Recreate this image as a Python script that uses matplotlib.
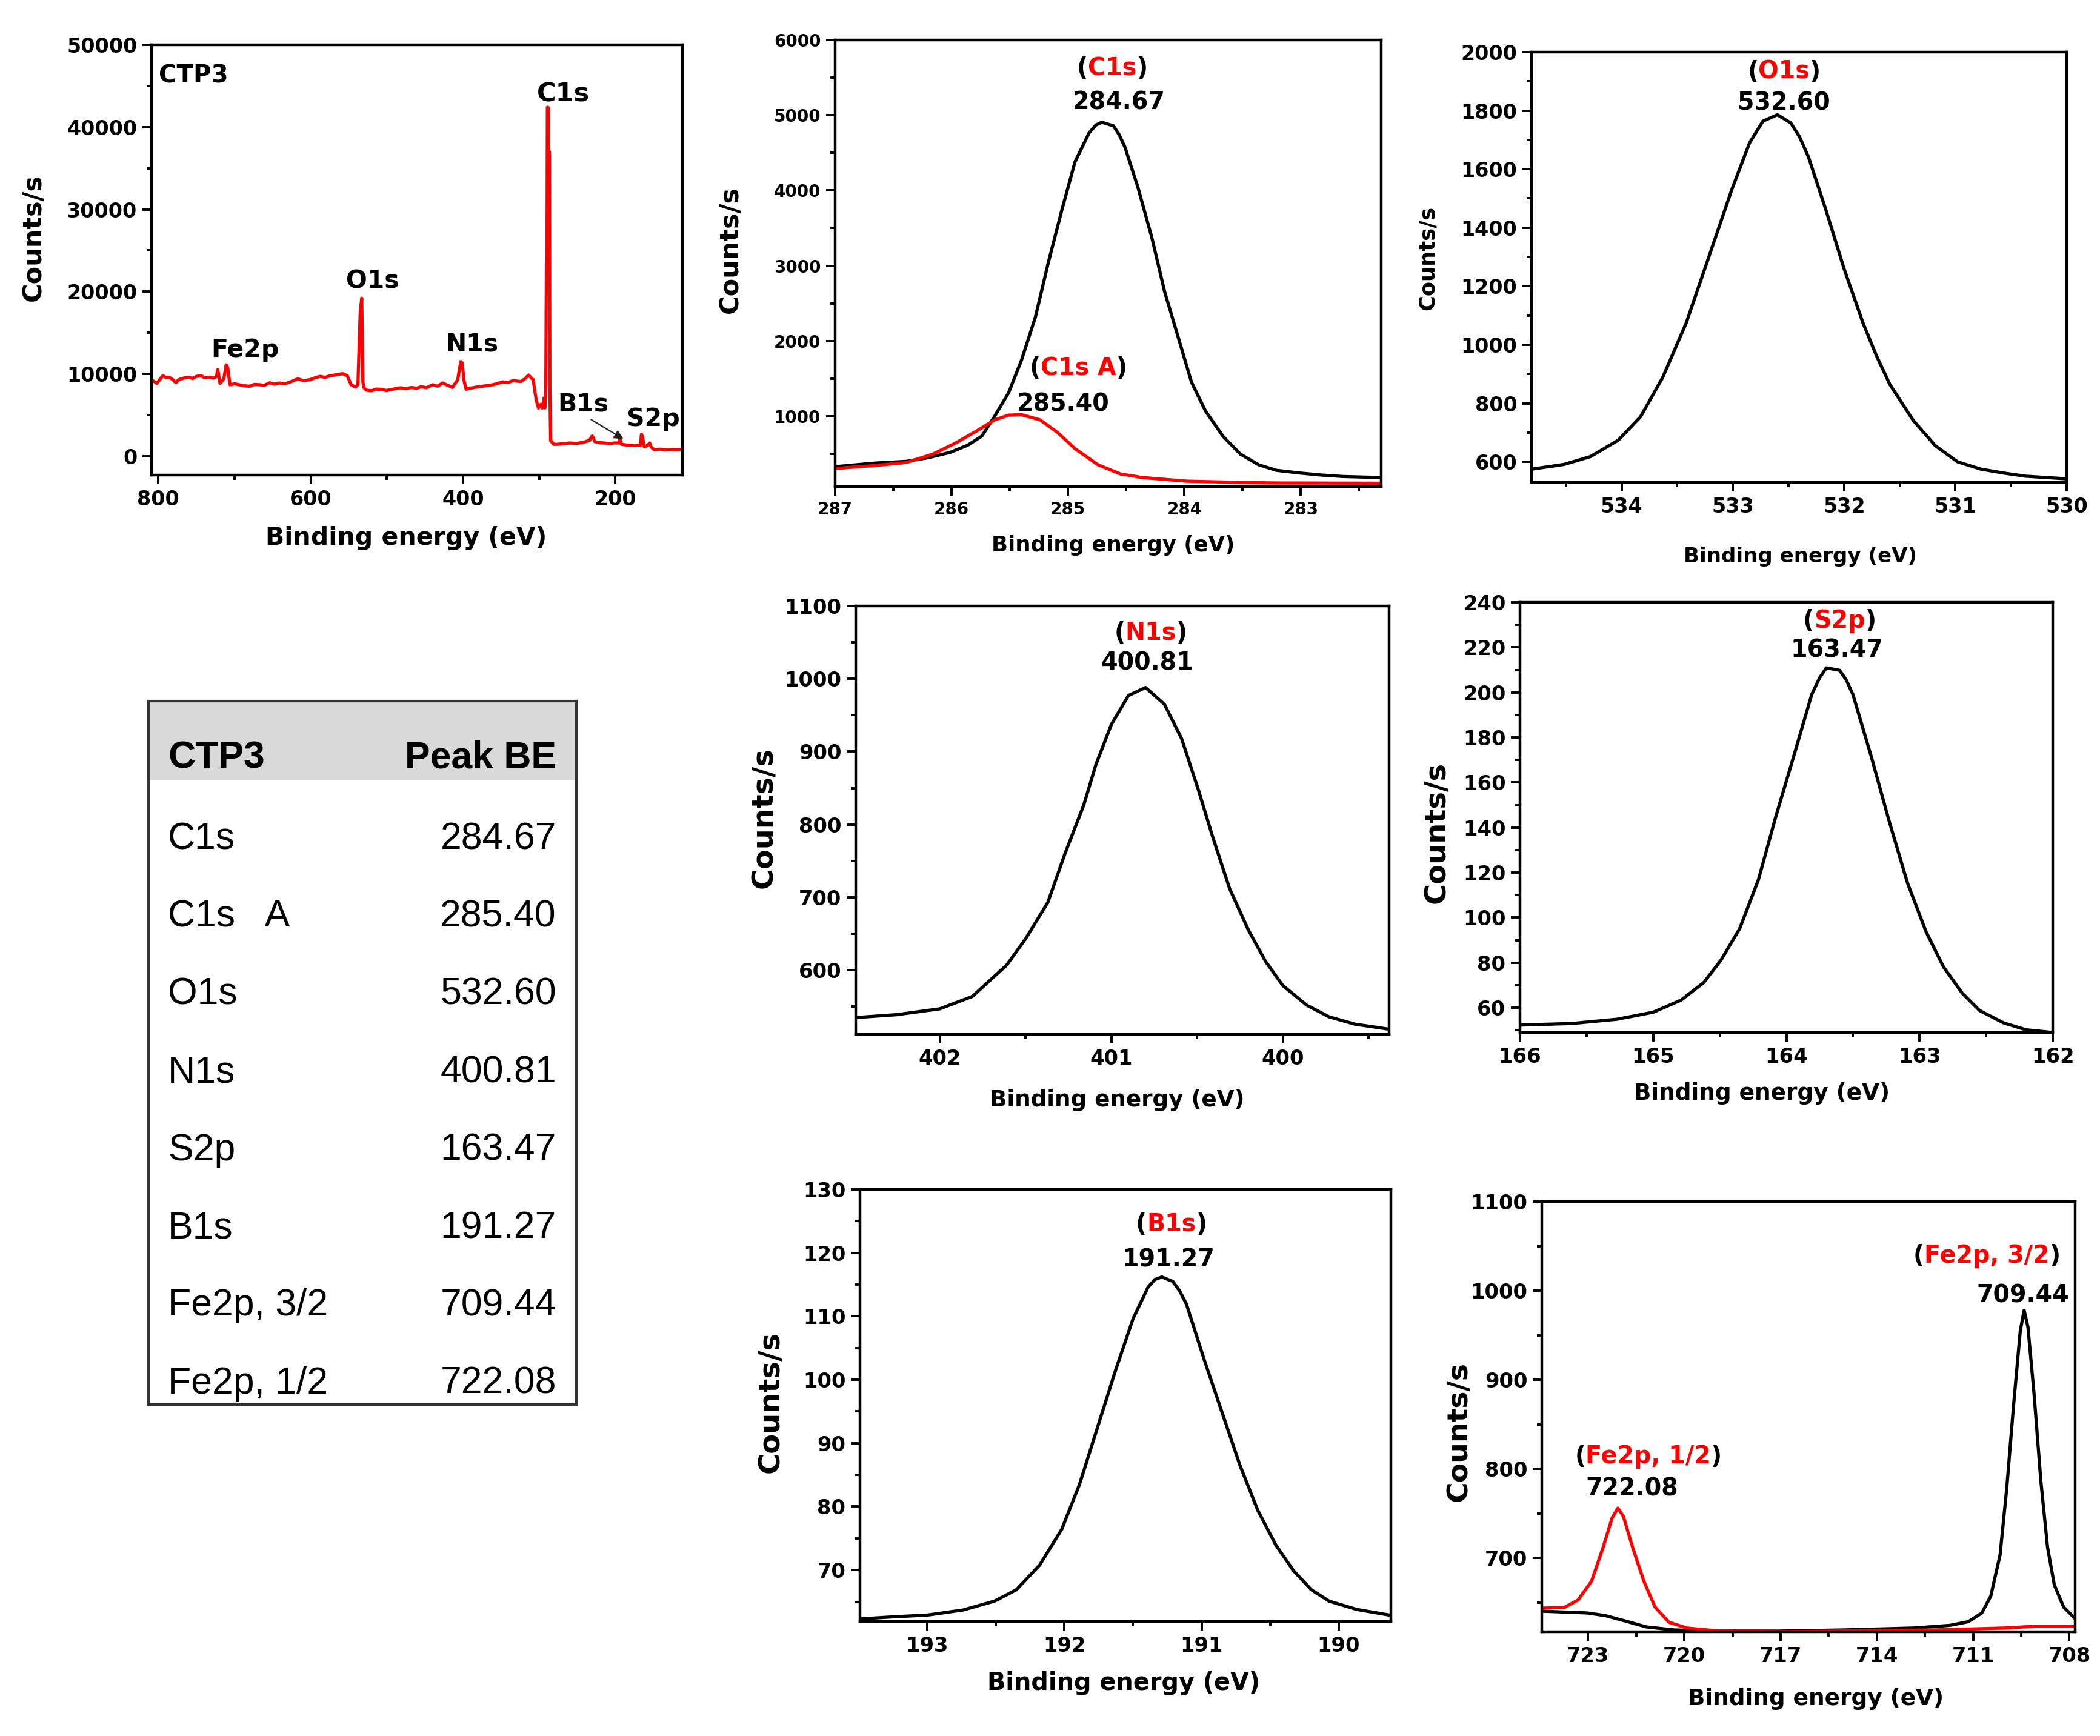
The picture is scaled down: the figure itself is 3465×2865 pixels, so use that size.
import matplotlib
matplotlib.use("Agg")
import matplotlib.pyplot as plt
from matplotlib.ticker import MultipleLocator, FormatStrFormatter
from matplotlib.patches import Rectangle

plt.rcParams['font.family'] = ['DejaVu Sans']
plt.rcParams['font.weight'] = 'bold'
plt.rcParams['axes.labelweight'] = 'bold'
plt.rcParams['lines.solid_joinstyle'] = 'round'

# ---------------- data ----------------
survey_ev = [809, 802, 797, 794, 790, 786, 781, 777, 774, 770, 765, 760, 755, 750, 744, 739,
             733, 728, 724, 722, 719, 714, 711, 709, 706, 700, 694, 688, 680, 674, 667, 661,
             654, 648, 641, 634, 627, 622, 617, 610, 601, 595, 588, 581, 574, 566, 558, 552,
             547, 541, 538, 535, 533, 531.5, 530, 527, 520, 514, 508, 501, 495, 488, 482, 475,
             468, 461, 455, 448, 440, 433, 427, 420, 414, 407, 403, 401, 399, 396, 392, 387,
             381, 374, 367, 361, 354, 348, 341, 334, 329, 324, 319, 314, 308, 304, 301, 298,
             296, 293.5, 292.5, 291.3, 290.6, 289.8, 289.3, 288.3, 287.6, 286.6, 286.0, 285.0,
             281, 276, 268, 260, 251, 242, 234, 230.5, 229.5, 227, 221, 215, 208, 202, 195,
             194, 192, 185, 175, 170, 167, 165.8, 164.5, 162, 158, 155, 153, 149, 142, 135,
             128, 122, 117, 113]
survey_counts = [9290, 8850, 9450, 9780, 9550, 9600, 9300, 8920, 9250, 9410, 9520, 9600, 9450, 9700, 9780, 9520,
                 9600, 9480, 9650, 10500, 8850, 9410, 11100, 10760, 8680, 8800, 8680, 8560, 8500, 8720, 8680, 8600,
                 8920, 8750, 8900, 8780, 9030, 9200, 9410, 9180, 9290, 9500, 9700, 9580, 9780, 9900, 10030, 9780,
                 8680, 8400, 8700, 17500, 19200, 9000, 8310, 8020, 7950, 8150, 8130, 7980, 8080, 8220, 8310, 8180,
                 8350, 8250, 8440, 8320, 8680, 8500, 8900, 8600, 8350, 9290, 11500, 11300, 9290, 8130, 8250, 8310,
                 8420, 8500, 8600, 8680, 8850, 9030, 8950, 9200, 9120, 9070, 9400, 9860, 9290, 6840, 5850, 6300,
                 5850, 7080, 5850, 9000, 23500, 23500, 42400, 42400, 37000, 37000, 8300, 1900,
                 1440, 1440, 1520, 1600, 1550, 1680, 1920, 2460, 2300, 1760, 1650, 1600, 1520, 1600, 1600,
                 2120, 1440, 1350, 1270, 1330, 1300, 2660, 2400, 1110, 1300, 1600, 1100, 780, 850, 780,
                 820, 780, 800, 830]

c1s_ev = [287.00, 286.66, 286.39, 286.20, 286.01, 285.86, 285.74, 285.63, 285.51, 285.40, 285.28,
          285.17, 285.05, 284.94, 284.82, 284.76, 284.71, 284.61, 284.56, 284.51, 284.40, 284.28,
          284.17, 284.05, 283.94, 283.82, 283.67, 283.52, 283.36, 283.21, 283.02, 282.83, 282.64,
          282.31]
c1s_counts = [329, 377, 400, 449, 520, 616, 736, 1000, 1312, 1743, 2318,
              3037, 3757, 4380, 4763, 4870, 4907, 4859, 4740, 4572, 4044, 3373,
              2654, 2031, 1455, 1072, 736, 497, 353, 281, 247, 219, 199,
              185]
c1sA_ev = [287.00, 286.66, 286.39, 286.16, 285.97, 285.78, 285.63, 285.51, 285.40, 285.24,
           285.09, 284.94, 284.74, 284.55, 284.36, 283.98, 283.59, 283.21, 282.31]
c1sA_counts = [305, 345, 385, 497, 640, 808, 952, 1014, 1020, 952,
               784, 569, 353, 233, 185, 137, 123, 113, 110]

o1s_ev = [534.81, 534.52, 534.28, 534.03, 533.83, 533.63, 533.42, 533.22, 533.01, 532.85, 532.73,
          532.60, 532.48, 532.40, 532.32, 532.16, 532.00, 531.83, 531.71, 531.59, 531.38, 531.18,
          530.98, 530.77, 530.57, 530.37, 530.00]
o1s_counts = [575, 591, 618, 674, 754, 889, 1074, 1296, 1530, 1690, 1764,
              1786, 1758, 1710, 1641, 1456, 1259, 1074, 963, 865, 742, 655,
              600, 575, 562, 551, 542]

n1s_ev = [402.49, 402.25, 402.00, 401.81, 401.61, 401.50, 401.37, 401.27, 401.16, 401.09, 401.00,
          400.90, 400.80, 400.69, 400.59, 400.49, 400.41, 400.31, 400.20, 400.10, 400.00, 399.86,
          399.73, 399.58, 399.38]
n1s_counts = [535, 539, 547, 564, 607, 643, 693, 760, 827, 882, 937,
              977, 988, 965, 918, 846, 784, 712, 655, 612, 579, 552,
              536, 526, 519]

s2p_ev = [166.00, 165.61, 165.27, 165.00, 164.79, 164.62, 164.49, 164.35, 164.21, 164.08, 163.94,
          163.81, 163.75, 163.70, 163.60, 163.55, 163.50, 163.36, 163.23, 163.09, 162.95, 162.82,
          162.68, 162.55, 162.37, 162.20, 162.00]
s2p_counts = [52.3, 53.0, 54.9, 58.0, 63.4, 71.2, 81.2, 95.2, 116.8, 144.7, 172.6,
              199.0, 206.5, 210.9, 209.8, 205.5, 199.0, 171.0, 143.2, 115.3, 93.6, 78.1,
              66.5, 58.8, 53.3, 50.2, 49.0]

b1s_ev = [193.49, 193.23, 193.00, 192.74, 192.51, 192.35, 192.18, 192.02, 191.89, 191.76, 191.63,
          191.50, 191.39, 191.34, 191.29, 191.21, 191.16, 191.11, 190.98, 190.85, 190.72, 190.59,
          190.46, 190.33, 190.20, 190.07, 189.87, 189.63]
b1s_counts = [62.3, 62.65, 62.9, 63.7, 65.1, 66.9, 70.8, 76.4, 83.5, 92.4, 101.3,
              109.6, 114.6, 115.8, 116.2, 115.5, 114.0, 111.9, 103.1, 94.8, 86.5, 79.4,
              74.0, 69.9, 66.9, 65.1, 63.8, 62.9]

fe32_ev = [724.44, 723.03, 722.46, 721.76, 721.19, 720.34, 719.21, 717.09, 714.97, 712.85, 711.72,
           711.15, 710.73, 710.45, 710.16, 709.95, 709.74, 709.53, 709.41, 709.29, 709.10, 708.89,
           708.68, 708.47, 708.18, 707.82]
fe32_counts = [640.4, 638.4, 635.4, 628.6, 622.8, 619.4, 618.2, 618.0, 619.4, 621.5, 624.5,
               628.6, 638.3, 657.2, 703.4, 779, 871, 955, 978, 959, 884, 787,
               712, 670, 645, 632]
fe12_ev = [724.44, 723.74, 723.31, 722.89, 722.53, 722.25, 722.07, 721.90, 721.61, 721.26, 720.91,
           720.48, 719.92, 718.93, 717.09, 714.97, 712.14, 710.02, 709.03, 707.82]
fe12_counts = [643.8, 644.6, 653, 674, 712, 745, 756, 747, 712, 674, 645,
               628, 621.5, 618.2, 617.3, 618.2, 619.4, 621.5, 623.6, 623.6]

table_header = ["CTP3", "Peak BE"]
table_names = ["C1s", "C1s   A", "O1s", "N1s", "S2p", "B1s", "Fe2p, 3/2", "Fe2p, 1/2"]
table_values = ["284.67", "285.40", "532.60", "400.81", "163.47", "191.27", "709.44", "722.08"]

# ---------------- figure ----------------
W, H = 3466, 2865
fig = plt.figure(figsize=(W / 100, H / 100), dpi=100)
fig.patch.set_facecolor('white')


def px_axes(l, r, t, b):
    return fig.add_axes([l / W, 1 - b / H, (r - l) / W, (b - t) / H])


def style(ax, xlim, ylim, xmaj, xmin, ymaj, ymin, tick_fs):
    ax.set_xlim(*xlim)
    ax.set_ylim(*ylim)
    ax.xaxis.set_major_locator(MultipleLocator(xmaj))
    ax.xaxis.set_minor_locator(MultipleLocator(xmin))
    ax.yaxis.set_major_locator(MultipleLocator(ymaj))
    ax.yaxis.set_minor_locator(MultipleLocator(ymin))
    ax.xaxis.set_major_formatter(FormatStrFormatter('%d'))
    ax.yaxis.set_major_formatter(FormatStrFormatter('%d'))
    ax.tick_params(which='both', direction='out', top=False, right=False, width=2.8, color='black')
    ax.tick_params(which='major', length=11, labelsize=tick_fs, pad=6)
    ax.tick_params(which='minor', length=6)
    for s in ax.spines.values():
        s.set_linewidth(3.2)
    for lab in ax.get_xticklabels() + ax.get_yticklabels():
        lab.set_fontweight('bold')


def labels(ax, xfs, yfs, xc, yc):
    ax.set_xlabel("Binding energy (eV)", fontsize=xfs, va='center', ha='center')
    ax.set_ylabel("Counts/s", fontsize=yfs, va='center', ha='center')
    ax.xaxis.set_label_coords(*xc)
    ax.yaxis.set_label_coords(*yc)


def paren_text(ax, x, y, mid, fs):
    t = ax.text(x, y, mid, color='#ff0000', ha='center', va='center', fontsize=fs, fontweight='bold')
    ax.annotate('(', xy=(0, 0), xycoords=t, ha='right', va='bottom', fontsize=fs,
                fontweight='bold', color='black')
    ax.annotate(')', xy=(1, 0), xycoords=t, ha='left', va='bottom', fontsize=fs,
                fontweight='bold', color='black')


RED = '#ff0000'
ANN = 28.5
LW = 3.8

# Survey
ax = px_axes(250, 1126, 74, 784)
ax.plot(survey_ev, survey_counts, color=RED, lw=3.8)
style(ax, (809, 112), (-2300, 50000), 200, 100, 10000, 5000, 24)
labels(ax, 29.5, 31, (0.48, -0.146), (-0.223, 0.552))
ax.text(799.5, 46243, "CTP3", fontsize=29, ha='left', va='center')
ax.text(268.7, 43960, "C1s", fontsize=31, ha='center', va='center')
ax.text(518.6, 21199, "O1s", fontsize=29.5, ha='center', va='center')
ax.text(388, 13538, "N1s", fontsize=29.5, ha='center', va='center')
ax.text(686.5, 12876, "Fe2p", fontsize=29.5, ha='center', va='center')
ax.text(242.5, 6283, "B1s", fontsize=29.5, ha='center', va='center')
ax.text(150.6, 4441, "S2p", fontsize=29.5, ha='center', va='center')
ax.annotate('', xy=(187.6, 1975), xytext=(233.7, 4552),
            arrowprops=dict(arrowstyle='-|>', color='#222222', lw=1.6, mutation_scale=22))

# C1s
ax = px_axes(1378, 2279, 66, 803)
ax.plot(c1s_ev, c1s_counts, color='black', lw=LW)
ax.plot(c1sA_ev, c1sA_counts, color=RED, lw=LW)
style(ax, (287, 282.31), (65, 6000), 1, 0.5, 1000, 500, 20)
labels(ax, 25.6, 31, (0.509, -0.132), (-0.192, 0.53))
paren_text(ax, 284.62, 5621, "C1s", ANN)
ax.text(284.56, 5163, "284.67", fontsize=ANN, ha='center', va='center')
paren_text(ax, 284.91, 1635, "C1s A", ANN)
ax.text(285.04, 1160, "285.40", fontsize=ANN, ha='center', va='center')

# O1s
ax = px_axes(2527, 3410, 86, 796)
ax.plot(o1s_ev, o1s_counts, color='black', lw=LW)
style(ax, (534.81, 530), (530, 2000), 1, 0.5, 200, 100, 24)
labels(ax, 24.6, 25.4, (0.502, -0.172), (-0.194, 0.521))
paren_text(ax, 532.54, 1932, "O1s", ANN)
ax.text(532.54, 1826, "532.60", fontsize=ANN, ha='center', va='center')

# N1s
ax = px_axes(1412, 2292, 1000, 1707)
ax.plot(n1s_ev, n1s_counts, color='black', lw=LW)
style(ax, (402.49, 399.38), (512, 1100), 1, 0.5, 100, 50, 24.3)
labels(ax, 26.8, 34.4, (0.49, -0.153), (-0.172, 0.506))
paren_text(ax, 400.77, 1062.6, "N1s", ANN)
ax.text(400.79, 1021.8, "400.81", fontsize=ANN, ha='center', va='center')

# S2p
ax = px_axes(2508, 3387, 994, 1704)
ax.plot(s2p_ev, s2p_counts, color='black', lw=LW)
style(ax, (166, 162), (49, 240), 1, 0.5, 20, 10, 24.3)
labels(ax, 26.9, 34.6, (0.454, -0.141), (-0.156, 0.465))
paren_text(ax, 163.6, 231.7, "S2p", ANN)
ax.text(163.62, 218.5, "163.47", fontsize=ANN, ha='center', va='center')

# B1s
ax = px_axes(1419, 2295, 1963, 2676)
ax.plot(b1s_ev, b1s_counts, color='black', lw=LW)
style(ax, (193.49, 189.62), (61.9, 130), 1, 0.5, 10, 5, 24.3)
labels(ax, 28.7, 34.6, (0.497, -0.143), (-0.168, 0.508))
paren_text(ax, 191.22, 124.5, "B1s", ANN)
ax.text(191.24, 118.9, "191.27", fontsize=ANN, ha='center', va='center')

# Fe2p
ax = px_axes(2544, 3424, 1983, 2693)
ax.plot(fe32_ev, fe32_counts, color='black', lw=LW)
ax.plot(fe12_ev, fe12_counts, color=RED, lw=LW)
style(ax, (724.44, 707.82), (617.3, 1100), 3, 1.5, 100, 50, 24.3)
labels(ax, 26.9, 34, (0.514, -0.155), (-0.155, 0.466))
paren_text(ax, 710.57, 1038.8, "Fe2p, 3/2", ANN)
ax.text(709.44, 994.6, "709.44", fontsize=ANN, ha='center', va='center')
paren_text(ax, 721.12, 813.8, "Fe2p, 1/2", ANN)
ax.text(721.64, 777.7, "722.08", fontsize=ANN, ha='center', va='center')

# Table
tl, tr, tt, tb = 245, 951, 1157, 2318
tax = px_axes(tl, tr, tt, tb)
tax.set_xlim(0, tr - tl)
tax.set_ylim(tb - tt, 0)
tax.axis('off')
tax.add_patch(Rectangle((0, 0), tr - tl, 131, facecolor='#d9d9d9', edgecolor='none'))
tax.add_patch(Rectangle((0, 0), tr - tl, tb - tt, facecolor='none', edgecolor='#333333', lw=3,
                        clip_on=False))
TF = ['Liberation Sans', 'DejaVu Sans']
tax.text(32, 111, table_header[0], fontsize=45, fontweight='bold', family=TF, ha='left', va='baseline')
tax.text(673, 111, table_header[1], fontsize=45, fontweight='bold', family=TF, ha='right', va='baseline')
for i, (nm, val) in enumerate(zip(table_names, table_values)):
    yb = 244 + i * 128.4
    tax.text(32, yb, nm, fontsize=45, fontweight='normal', family=TF, ha='left', va='baseline')
    tax.text(673, yb, val, fontsize=45, fontweight='normal', family=TF, ha='right', va='baseline')

fig.savefig('out.png', dpi=100, facecolor='white')
